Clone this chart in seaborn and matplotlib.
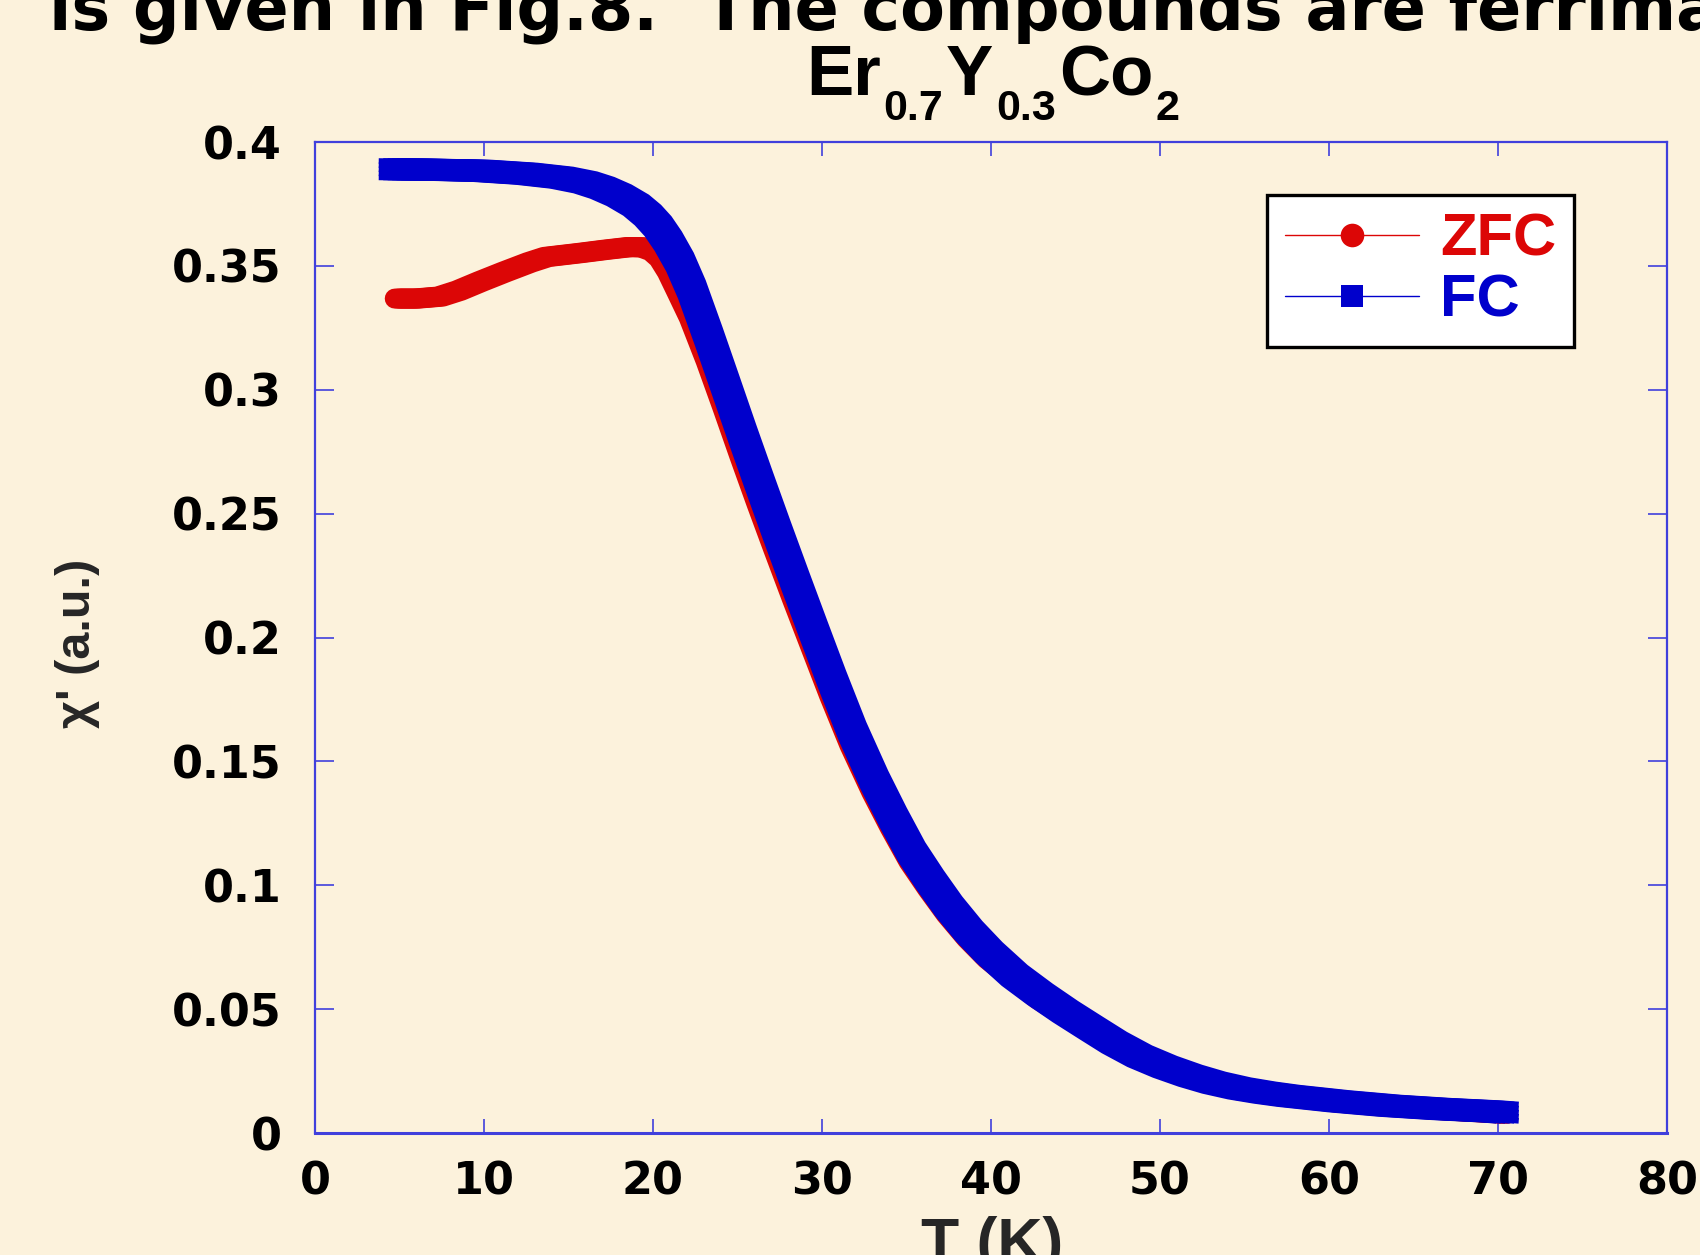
import matplotlib
matplotlib.use("Agg")
import matplotlib.pyplot as plt
import matplotlib.patheffects as pe
from matplotlib.font_manager import FontProperties
from matplotlib.lines import Line2D
import pandas as pd
import seaborn as sns

# Measured AC susceptibility of Er0.7Y0.3Co2
fc_temp = [4.6, 7.0, 9.8, 12.5, 14.6, 16.0, 17.0, 18.0, 19.0, 19.7, 20.3, 20.9,
           21.6, 22.3, 23.3, 24.3, 25.3, 26.3, 27.3, 28.4, 29.5, 30.6, 31.8, 33.1,
           34.2, 35.3, 36.4, 37.5, 38.7, 39.9, 41.4, 42.9, 44.4, 45.9, 47.3, 48.8,
           50.3, 51.8, 53.2, 54.7, 56.2, 57.6, 60.6, 63.6, 66.6, 69.6, 70.4]
fc_chi = [0.3890, 0.3888, 0.3884, 0.3872, 0.3856, 0.3837, 0.3815, 0.3785, 0.3745,
          0.3705, 0.3660, 0.3600, 0.3515, 0.3405, 0.3215, 0.3018, 0.2820, 0.2627,
          0.2437, 0.2232, 0.2030, 0.1830, 0.1622, 0.1425, 0.1275, 0.1135, 0.1021,
          0.0915, 0.0815, 0.0729, 0.0636, 0.0560, 0.0490, 0.0425, 0.0365, 0.0310,
          0.0267, 0.0231, 0.0203, 0.0180, 0.0163, 0.0150, 0.0128, 0.0110, 0.0097,
          0.0087, 0.0083]

zfc_temp = [4.9, 6.0, 7.4, 8.5, 9.8, 11.2, 12.7, 13.7, 15.7, 17.2, 18.6, 19.4,
            20.0, 20.5, 21.0, 21.6, 22.3, 23.3, 24.3, 25.3, 26.3, 27.3, 28.4, 29.5,
            30.6, 31.8, 33.1, 34.2, 35.3, 36.4, 37.5, 38.7, 39.9, 42.9, 45.9, 50.3,
            54.7, 60.6, 66.6, 70.4]
zfc_chi = [0.3368, 0.3368, 0.3376, 0.3400, 0.3437, 0.3475, 0.3514, 0.3536, 0.3552,
           0.3565, 0.3576, 0.3575, 0.3560, 0.3530, 0.3475, 0.3390, 0.3290, 0.3115,
           0.2925, 0.2730, 0.2540, 0.2355, 0.2155, 0.1960, 0.1765, 0.1565, 0.1375,
           0.1230, 0.1095, 0.0985, 0.0882, 0.0785, 0.0702, 0.0540, 0.0410, 0.0258,
           0.0173, 0.0123, 0.0093, 0.0078]

series_names = ["ZFC", "FC"]
x_ticks = [0, 10, 20, 30, 40, 50, 60, 70, 80]
x_tick_labels = ["0", "10", "20", "30", "40", "50", "60", "70", "80"]
y_ticks = [0, 0.05, 0.1, 0.15, 0.2, 0.25, 0.3, 0.35, 0.4]
y_tick_labels = ["0", "0.05", "0.1", "0.15", "0.2", "0.25", "0.3", "0.35", "0.4"]

# chemical formula: (text, is_subscript)
formula_parts = [("Er", False), ("0.7", True), ("Y", False), ("0.3", True),
                 ("Co", False), ("2", True)]

BG = "#FCF2DC"
RED = "#DC0606"
BLUE = "#0000CC"
FRAME = "#4040DC"

sns.set_style("ticks")
plt.rcParams["font.family"] = ["DejaVu Sans"]

zfc = pd.DataFrame({"T": zfc_temp, "chi": zfc_chi})
fc = pd.DataFrame({"T": fc_temp, "chi": fc_chi})

fig = plt.figure(figsize=(17, 12.55), dpi=100, facecolor=BG)
ax = fig.add_axes([0.18529, 0.09721, 0.79529, 0.78964])
ax.set_facecolor(BG)

# ZFC: densely packed oval markers -> band swept by an oval
sns.lineplot(data=zfc, x="T", y="chi", ax=ax, color=RED, linewidth=14.4,
             estimator=None, sort=False, legend=False)
zline = ax.lines[-1]
zline.set_path_effects([
    pe.Stroke(offset=(dx, 0.0), linewidth=14.4, foreground=RED,
              capstyle="round", joinstyle="round")
    for dx in [-2.2, 0.0, 2.2]
])

# FC: densely packed rectangular markers -> band swept by a rectangle
sns.lineplot(data=fc, x="T", y="chi", ax=ax, color=BLUE, linewidth=1,
             estimator=None, sort=False, legend=False)
fline = ax.lines[-1]
dx_offs = [-8.08, -4.85, -1.62, 1.62, 4.85, 8.08]
dy_offs = [-5.92, -2.96, 0.0, 2.96, 5.92]
fline.set_path_effects([
    pe.Stroke(offset=(dx, dy), linewidth=4.0, foreground=BLUE,
              capstyle="projecting", joinstyle="round")
    for dx in dx_offs for dy in dy_offs
])

ax.set_xlim(0, 80)
ax.set_ylim(0, 0.4)
ax.set_xticks(x_ticks)
ax.set_xticklabels(x_tick_labels)
ax.set_yticks(y_ticks)
ax.set_yticklabels(y_tick_labels)

tick_fp = FontProperties(family="DejaVu Sans", weight="bold", size=32)
for lab in ax.get_xticklabels() + ax.get_yticklabels():
    lab.set_fontproperties(tick_fp)
    lab.set_color("black")

ax.tick_params(axis="x", which="major", direction="in", length=10, width=1.2,
               color=FRAME, top=True, bottom=True, pad=20)
ax.tick_params(axis="y", which="major", direction="in", length=14, width=1.2,
               color=FRAME, left=True, right=True, pad=24)
for side in ["left", "right", "top", "bottom"]:
    ax.spines[side].set_visible(True)
    ax.spines[side].set_color(FRAME)
    ax.spines[side].set_linewidth(1.6)
ax.spines["bottom"].set_linewidth(2.2)

ax.set_xlabel("T (K)", family="Liberation Sans", weight="bold", fontsize=45)
ax.xaxis.set_label_coords(0.5007, -0.0838)
ax.xaxis.label.set_va("top")

ax.set_ylabel("χ' (a.u.)", family="Liberation Sans", weight="bold", fontsize=35)
ax.yaxis.set_label_coords(-0.1753, 0.494)
ax.yaxis.label.set_va("center")

# legend
handles = [
    Line2D([], [], color=RED, linewidth=1.0, marker="o", markersize=17,
           markeredgewidth=0),
    Line2D([], [], color=BLUE, linewidth=1.0, marker="s", markersize=16,
           markeredgewidth=0),
]
leg = ax.legend(handles, series_names, loc="upper left",
                bbox_to_anchor=(0.704, 0.9465), frameon=True, fancybox=False,
                shadow=False, framealpha=1.0, facecolor="white",
                edgecolor="black", borderpad=0.3, handlelength=2.25,
                handletextpad=0.35, labelspacing=0.1, borderaxespad=0.0,
                prop=dict(family="Liberation Sans", weight="bold", size=43),
                labelcolor="linecolor")
leg.get_frame().set_linewidth(2.4)

# compound name, built piece by piece with dropped subscripts
main_size, sub_size, drop = 51, 31, 14.0
prev = fig.text(806 / 1700, 1 - 95 / 1255, formula_parts[0][0], ha="left",
                va="baseline", family="Liberation Sans", weight="bold",
                fontsize=main_size, color="black")
prev_sub = False
for text, is_sub in formula_parts[1:]:
    if is_sub == prev_sub:
        dy = 0.0
    else:
        dy = -drop if is_sub else drop
    prev = ax.annotate(text, xy=(1, 0), xycoords=prev,
                       xytext=(2.0, dy), textcoords="offset points",
                       ha="left", va="bottom", family="Liberation Sans",
                       weight="bold", fontsize=sub_size if is_sub else main_size,
                       color="black", annotation_clip=False)
    prev_sub = is_sub

# running slide text above the chart
fig.text(49 / 1700, 1 - 30 / 1255,
         "is given in Fig.8.  The compounds are ferrimagnetic",
         ha="left", va="baseline", family="DejaVu Sans", weight="bold",
         fontsize=47, color="black")

fig.savefig("out.png", dpi=100, facecolor=BG)
